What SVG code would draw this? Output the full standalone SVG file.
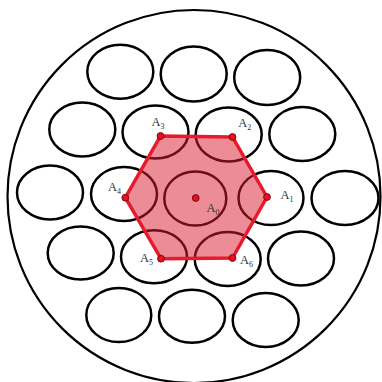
<svg xmlns="http://www.w3.org/2000/svg" width="382" height="382" viewBox="0 0 382 382">
<style>
.el{fill:none;stroke:#000;stroke-width:2.5}
.lbl{font-family:"Liberation Serif","DejaVu Serif",serif;font-size:12.5px;fill:#333}
.sub{font-size:8px}
.dot{fill:#e8101e;stroke:#7a0a12;stroke-width:1}
</style>
<rect width="382" height="382" fill="#fff"/>
<circle id="outer" cx="194" cy="196.5" r="186.5" fill="none" stroke="#000" stroke-width="2.2"/>
<g id="ellipses">
<ellipse id="e1" class="el" cx="120.3" cy="71.7" rx="33" ry="27"/>
<ellipse id="e2" class="el" cx="193.7" cy="74" rx="33" ry="27.5"/>
<ellipse id="e3" class="el" cx="267.2" cy="77.5" rx="33" ry="27.5"/>
<ellipse id="e4" class="el" cx="82.3" cy="129.5" rx="33" ry="27"/>
<ellipse id="e5" class="el" cx="155.5" cy="132" rx="33" ry="26.5"/>
<ellipse id="e6" class="el" cx="228.7" cy="134.5" rx="33" ry="27"/>
<ellipse id="e7" class="el" cx="302.3" cy="134" rx="33" ry="27"/>
<ellipse id="e8" class="el" cx="50" cy="192.5" rx="33" ry="27"/>
<ellipse id="e9" class="el" cx="124" cy="194" rx="33" ry="27"/>
<ellipse id="e10" class="el" cx="195.3" cy="198.5" rx="31" ry="27"/>
<ellipse id="e11" class="el" cx="271" cy="198" rx="32.5" ry="27"/>
<ellipse id="e12" class="el" cx="345" cy="198" rx="33.5" ry="27"/>
<ellipse id="e13" class="el" cx="80.7" cy="253" rx="33" ry="26.5"/>
<ellipse id="e14" class="el" cx="154" cy="256.7" rx="33" ry="26.5"/>
<ellipse id="e15" class="el" cx="227.7" cy="259" rx="33" ry="27"/>
<ellipse id="e16" class="el" cx="301" cy="258.5" rx="33" ry="27"/>
<ellipse id="e17" class="el" cx="118.8" cy="315" rx="32.5" ry="27"/>
<ellipse id="e18" class="el" cx="192" cy="316.3" rx="33" ry="26.5"/>
<ellipse id="e19" class="el" cx="265.7" cy="320" rx="33" ry="27"/>
</g>
<g id="connectors">
<polygon points="267,197 232.5,137 160.5,136 125.3,197.7 161,258.7 232.5,258" fill="#d81a30" fill-opacity="0.5" stroke="#e8192c" stroke-width="3.5" stroke-linejoin="round"/>
</g>
<g id="A0"><circle class="dot" cx="195.7" cy="198" r="3.4"/><text class="lbl" x="206.5" y="211.5">A<tspan class="sub" dy="3">0</tspan></text></g>
<g id="A1"><circle class="dot" cx="267" cy="197" r="3.4"/><text class="lbl" x="280.5" y="199">A<tspan class="sub" dy="3">1</tspan></text></g>
<g id="A2"><circle class="dot" cx="232.5" cy="137" r="3.4"/><text class="lbl" x="238.3" y="127">A<tspan class="sub" dy="3">2</tspan></text></g>
<g id="A3"><circle class="dot" cx="160.5" cy="136" r="3.4"/><text class="lbl" x="151.5" y="126">A<tspan class="sub" dy="3">3</tspan></text></g>
<g id="A4"><circle class="dot" cx="125.3" cy="197.7" r="3.4"/><text class="lbl" x="108" y="191">A<tspan class="sub" dy="3">4</tspan></text></g>
<g id="A5"><circle class="dot" cx="161" cy="258.7" r="3.4"/><text class="lbl" x="140" y="262">A<tspan class="sub" dy="3">5</tspan></text></g>
<g id="A6"><circle class="dot" cx="232.5" cy="258" r="3.4"/><text class="lbl" x="240" y="264">A<tspan class="sub" dy="3">6</tspan></text></g>
</svg>
